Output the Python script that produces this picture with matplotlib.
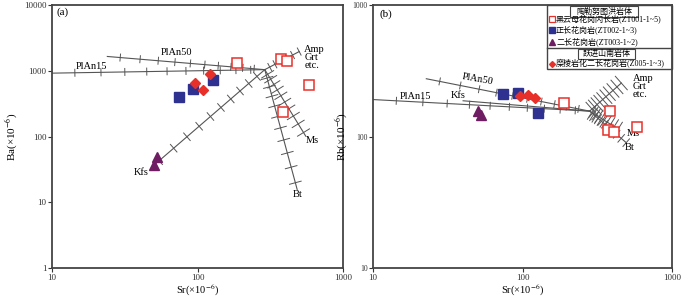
import numpy as np
import matplotlib
matplotlib.use('Agg')
import matplotlib.pyplot as plt
from matplotlib.patches import Rectangle

plt.rcParams['font.family'] = ['Liberation Serif', 'Noto Sans CJK SC']
plt.rcParams['mathtext.fontset'] = 'stix'

# datos de las muestras
sr_zt001 = [188, 372, 412, 582, 384]
ba_zt001 = [1310, 1500, 1430, 598, 239]
rb_zt001 = [179, 113, 109, 119, 157]

sr_zt002 = [74.5, 93.3, 127]
ba_zt002 = [393, 527, 722]
rb_zt002 = [212, 215, 150]

sr_zt003 = [52.5, 50.2]
ba_zt003 = [49.2, 36.4]
rb_zt003 = [145, 156]

sr_z005 = [96.5, 109.5, 121.5]
ba_z005 = [650, 515, 891]
rb_z005 = [203, 207, 195]

# vectores de fraccionamiento (origen, extremo, F final)
origen_a = (290, 1040)
vec_a_nombres = ['PlAn15', 'PlAn50', 'Kfs', 'Ms', 'Bt', 'Amp']
vec_a_fin = [(10, 920), (24, 1650), (49.4, 35.5), (555, 101), (484, 15.7), (500, 1960)]
vec_a_F = [0.46, 0.47, 0.48, 0.48, 0.48, 0.7]

origen_b = (281, 156)
vec_b_nombres = ['PlAn15', 'PlAn50', 'Kfs', 'Amp', 'Ms', 'Bt']
vec_b_fin = [(10, 191), (22.7, 275), (40, 187), (458, 255), (436, 114), (494, 89.8)]
vec_b_F = [0.46, 0.47, None, 0.5, 0.5, 0.5]

F_marcas = [0.95, 0.90, 0.85, 0.80, 0.75, 0.70, 0.65, 0.60, 0.55, 0.50]

leyenda_1 = ['黑云母花岗闪长岩(ZT001-1~5)', '正长花岗岩(ZT002-1~3)', '二长花岗岩(ZT003-1~2)']
leyenda_2 = ['糜棱岩化二长花岗岩(Z005-1~3)']

c_rojo = '#e8302a'
c_azul = '#2e3190'
c_morado = '#6e1d62'
c_linea = '#555555'

fig = plt.figure(figsize=(7, 2.97), dpi=100)
axa = fig.add_axes([0.0743, 0.0976, 0.4157, 0.8855])
axb = fig.add_axes([0.533, 0.0976, 0.427, 0.8855])

axa.set_xscale('log'); axa.set_yscale('log')
axb.set_xscale('log'); axb.set_yscale('log')
axa.set_xlim(10, 1000); axa.set_ylim(1, 10000)
axb.set_xlim(10, 1000); axb.set_ylim(10, 1000)


def vector(ax, o, fin, Ff, largo):
    x = [o[0], fin[0]]
    y = [o[1], fin[1]]
    ax.plot(x, y, color=c_linea, lw=0.8, zorder=2, clip_on=True)
    if Ff is None:
        return
    lx0, ly0 = np.log10(o)
    lx1, ly1 = np.log10(fin)
    p0 = ax.transData.transform(o)
    p1 = ax.transData.transform(fin)
    d = p1 - p0
    d = d / np.hypot(d[0], d[1])
    n = np.array([-d[1], d[0]])
    for F in F_marcas:
        if F < Ff - 1e-6:
            continue
        t = np.log10(F) / np.log10(Ff)
        pt = (10 ** (lx0 + t * (lx1 - lx0)), 10 ** (ly0 + t * (ly1 - ly0)))
        pd = ax.transData.transform(pt)
        a = ax.transData.inverted().transform(pd + n * largo)
        b = ax.transData.inverted().transform(pd - n * largo)
        ax.plot([a[0], b[0]], [a[1], b[1]], color=c_linea, lw=0.7, zorder=2)


largos_a = [3.5, 3.5, 5, 7, 6, 4]
for fin, Ff, l in zip(vec_a_fin, vec_a_F, largos_a):
    vector(axa, origen_a, fin, Ff, l)
largos_b = [3.5, 3.5, 0, 9, 8, 5]
for fin, Ff, l in zip(vec_b_fin, vec_b_F, largos_b):
    vector(axb, origen_b, fin, Ff, l)

# puntos
for ax, yy in [(axa, (ba_zt001, ba_zt002, ba_zt003, ba_z005)),
               (axb, (rb_zt001, rb_zt002, rb_zt003, rb_z005))]:
    ax.plot(sr_zt001, yy[0], 's', ms=6.5, mfc='white', mec=c_rojo, mew=1.1, ls='none', zorder=4)
    ax.plot(sr_zt002, yy[1], 's', ms=6.5, color=c_azul, ls='none', zorder=4)
    ax.plot(sr_zt003, yy[2], '^', ms=6.5, color=c_morado, ls='none', zorder=4)
    ax.plot(sr_z005, yy[3], 'D', ms=4.8, color=c_rojo, ls='none', zorder=4)

# etiquetas de vectores
fs = 7.5
axa.text(71.8, 1875, 'PlAn50', fontsize=fs, ha='center', va='center')
axa.text(18.8, 1150, 'PlAn15', fontsize=fs, ha='center', va='center')
axa.text(541, 1575, 'Amp\nGrt\netc.', fontsize=fs, ha='left', va='center', linespacing=0.85)
axa.text(614, 87, 'Ms', fontsize=fs, ha='center', va='center')
axa.text(492, 13.2, 'Bt', fontsize=fs, ha='center', va='center')
axa.text(41.3, 28.5, 'Kfs', fontsize=fs, ha='center', va='center')
axa.text(0.014, 0.973, '(a)', fontsize=8, transform=axa.transAxes, ha='left', va='center')

axb.text(19.1, 202, 'PlAn15', fontsize=fs, ha='center', va='center')
axb.text(50.4, 272, 'PlAn50', fontsize=fs, ha='center', va='center', rotation=-10)
axb.text(37.1, 206, 'Kfs', fontsize=fs, ha='center', va='center')
axb.text(548, 240, 'Amp\nGrt\netc.', fontsize=fs, ha='left', va='center', linespacing=0.85)
axb.text(548, 106, 'Ms', fontsize=fs, ha='center', va='center')
axb.text(524, 81.8, 'Bt', fontsize=fs, ha='center', va='center')
axb.text(0.023, 0.966, '(b)', fontsize=8, transform=axb.transAxes, ha='left', va='center')

# leyenda
tA = axb.transAxes
axb.add_patch(Rectangle((0.582, 0.755), 0.418, 0.245, transform=tA, fill=False,
                        ec='#444444', lw=1.0, zorder=5, clip_on=False))
axb.plot([0.582, 1.0], [0.835, 0.835], transform=tA, color='#444444', lw=1.0, zorder=5)
axb.add_patch(Rectangle((0.659, 0.955), 0.227, 0.04, transform=tA, fill=False,
                        ec='#444444', lw=0.8, zorder=5))
axb.add_patch(Rectangle((0.686, 0.795), 0.19, 0.036, transform=tA, fill=False,
                        ec='#444444', lw=0.8, zorder=5))
fl = 5.8
axb.text(0.7725, 0.975, '陶勒努图洪岩体', transform=tA, fontsize=fl, ha='center', va='center', zorder=6)
axb.text(0.781, 0.813, '跃进山南岩体', transform=tA, fontsize=fl, ha='center', va='center', zorder=6)
yl = [0.948, 0.905, 0.860]
estilos = [dict(marker='s', ms=4, mfc='white', mec=c_rojo, mew=0.9),
           dict(marker='s', ms=4, color=c_azul),
           dict(marker='^', ms=4, color=c_morado)]
for y, txt, st in zip(yl, leyenda_1, estilos):
    axb.plot([0.597], [y], transform=tA, ls='none', zorder=6, **st)
    axb.text(0.612, y, txt, transform=tA, fontsize=fl, ha='left', va='center', zorder=6)
axb.plot([0.597], [0.777], 'D', ms=3, color=c_rojo, transform=tA, zorder=6)
axb.text(0.612, 0.777, leyenda_2[0], transform=tA, fontsize=fl, ha='left', va='center', zorder=6)

# ejes
for ax in (axa, axb):
    for s in ax.spines.values():
        s.set_color('#444444')
        s.set_linewidth(1.3)
    ax.minorticks_off()
    ax.tick_params(direction='out', length=3, width=0.8, labelsize=6.5, pad=1, colors='#333333')
    ax.set_xlabel('Sr(×10$^{-6}$)', fontsize=7.5)
    ax.xaxis.set_label_coords(0.5, -0.056)

axa.set_xticks([10, 100, 1000], ['10', '100', '1000'])
axa.set_yticks([1, 10, 100, 1000, 10000], ['1', '10', '100', '1000', '10000'])
axb.set_xticks([10, 100, 1000], ['10', '100', '1000'])
axb.set_yticks([10, 100, 1000], ['10', '100', '1000'])
axb.tick_params(axis='y', labelsize=5.5)
axa.set_ylabel('Ba(×10$^{-6}$)', fontsize=8, labelpad=3)
axb.set_ylabel('Rb(×10$^{-6}$)', fontsize=8, labelpad=2)

fig.savefig('out.png', dpi=100)
